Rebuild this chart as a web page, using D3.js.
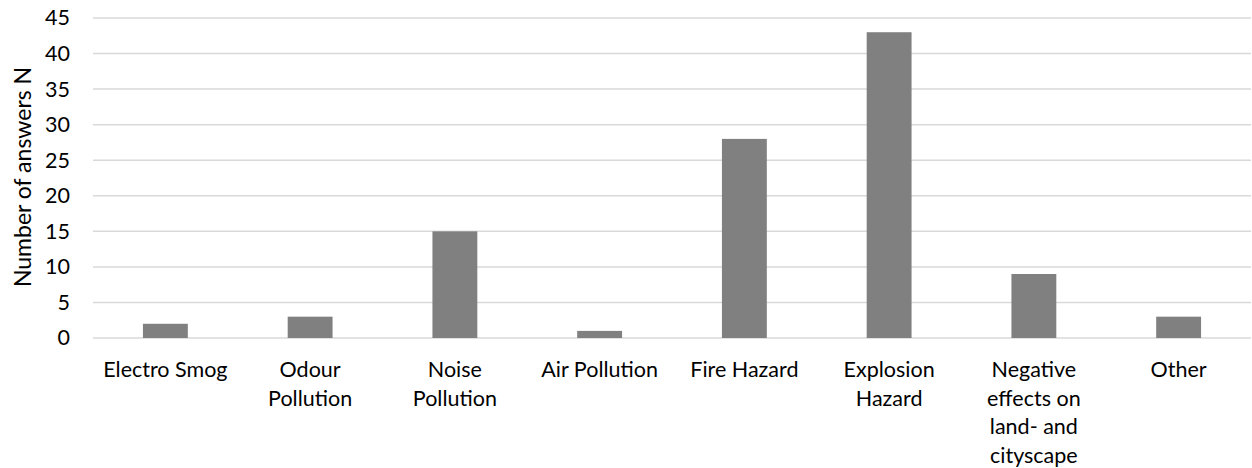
<!DOCTYPE html>
<html>
<head>
<meta charset="utf-8">
<script src="https://cdn.jsdelivr.net/npm/d3@7"></script>
<style>
  body { margin: 0; background: #fff; }
  svg text { font-family: Lato, "Open Sans", sans-serif; fill: #000; }
  .grid line { stroke: #d9d9d9; stroke-width: 1.5; }
</style>
</head>
<body>
<div id="chart"></div>
<script>
var categories = ["Electro Smog", "Odour Pollution", "Noise Pollution", "Air Pollution",
                  "Fire Hazard", "Explosion Hazard", "Negative effects on land- and cityscape", "Other"];
// wrapped tick labels, as in the picture
var tickLines = [
  ["Electro Smog"],
  ["Odour", "Pollution"],
  ["Noise", "Pollution"],
  ["Air Pollution"],
  ["Fire Hazard"],
  ["Explosion", "Hazard"],
  ["Negative", "effects on", "land- and", "cityscape"],
  ["Other"]
];
var answers = [2, 3, 15, 1, 28, 43, 9, 3];
var yTicks = [0, 5, 10, 15, 20, 25, 30, 35, 40, 45];
var yTitle = "Number of answers N";

var width = 1252, height = 468;
var margin = {top: 18, right: 1, bottom: 130, left: 93};

var svg = d3.select("#chart").append("svg")
    .attr("width", width)
    .attr("height", height);

var x = d3.scaleBand()
    .domain(categories)
    .range([margin.left, width - margin.right])
    .paddingInner(0.69)
    .paddingOuter(0.345);

var y = d3.scaleLinear()
    .domain([0, 45])
    .range([height - margin.bottom, margin.top]);

// gridlines
svg.append("g")
    .attr("class", "grid")
  .selectAll("line")
    .data(yTicks)
  .enter().append("line")
    .attr("x1", margin.left)
    .attr("x2", width - margin.right)
    .attr("y1", function(d) { return y(d); })
    .attr("y2", function(d) { return y(d); });

// y tick labels
var yAxis = d3.axisLeft(y)
    .tickValues(yTicks)
    .tickSize(0)
    .tickPadding(23);
svg.append("g")
    .attr("transform", "translate(" + margin.left + ",0)")
    .call(yAxis)
    .call(function(g) { g.select(".domain").remove(); })
    .selectAll("text")
      .style("font-size", "21.5px")
      .attr("fill", "#000");

// bars
svg.append("g")
  .selectAll("rect")
    .data(answers)
  .enter().append("rect")
    .attr("x", function(d, i) { return x(categories[i]); })
    .attr("width", x.bandwidth())
    .attr("y", function(d) { return y(d); })
    .attr("height", function(d) { return y(0) - y(d); })
    .attr("fill", "#808080");

// x labels
var xLabels = svg.append("g")
  .selectAll("text")
    .data(categories)
  .enter().append("text")
    .attr("x", function(d) { return x(d) + x.bandwidth() / 2; })
    .attr("y", 377)
    .attr("text-anchor", "middle")
    .style("font-size", "21.5px");

xLabels.each(function(d, i) {
  var t = d3.select(this);
  tickLines[i].forEach(function(line, j) {
    t.append("tspan")
      .attr("x", x(d) + x.bandwidth() / 2)
      .attr("dy", j == 0 ? 0 : 28.7)
      .text(line);
  });
});

// y axis title
svg.append("text")
    .attr("transform", "translate(31," + 177 + ") rotate(-90)")
    .attr("text-anchor", "middle")
    .style("font-size", "23px")
    .text(yTitle);
</script>
</body>
</html>
